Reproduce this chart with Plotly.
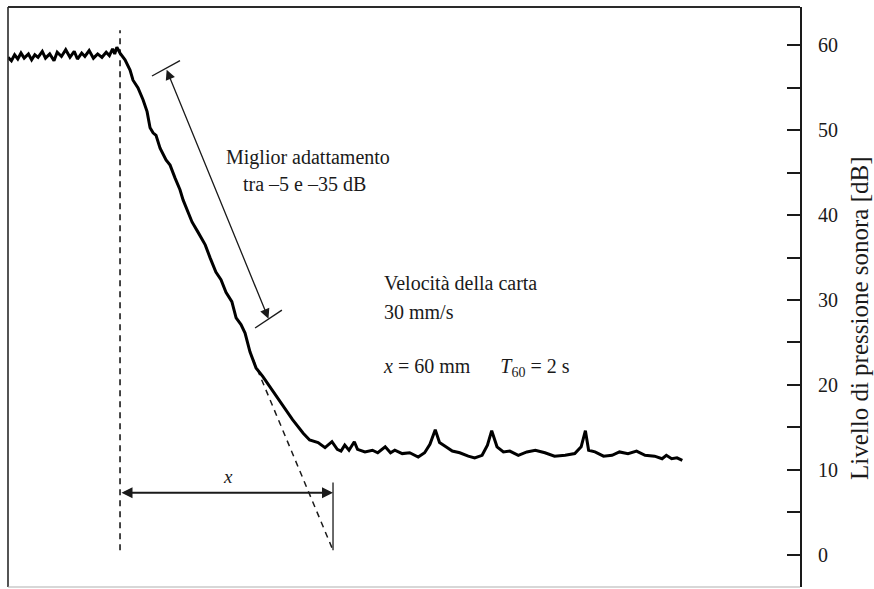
import plotly.graph_objects as go

# ---- data (time in s from start of decay, level in dB) ----
plateau_t = [-1.052, -1.02, -0.99, -0.96, -0.93, -0.90, -0.86, -0.83, -0.80, -0.77,
             -0.73, -0.70, -0.66, -0.62, -0.59, -0.55, -0.51, -0.47, -0.43, -0.40,
             -0.36, -0.33, -0.29, -0.25, -0.21, -0.17, -0.13, -0.10, -0.07, -0.05, -0.03]
plateau_L = [58.6, 58.2, 58.9, 58.4, 59.1, 58.5, 59.0, 58.3, 58.9, 58.6,
             59.3, 58.5, 59.0, 58.2, 59.2, 58.7, 59.5, 58.6, 59.3, 58.4,
             59.1, 58.7, 59.4, 58.5, 59.0, 58.6, 59.2, 58.8, 59.6, 59.0, 59.8]

decay_t = [0.0, 0.047, 0.094, 0.122, 0.169, 0.216, 0.254, 0.282, 0.31, 0.338,
           0.376, 0.432, 0.47, 0.516, 0.563, 0.592, 0.629, 0.676, 0.732, 0.80,
           0.845, 0.90, 0.948, 0.995, 1.05, 1.09, 1.136, 1.174, 1.22, 1.277,
           1.34, 1.427, 1.52, 1.62, 1.72, 1.78, 1.86, 1.925]
decay_L = [59.1, 58.3, 57.1, 55.9, 55.0, 53.6, 52.2, 50.3, 49.7, 49.4,
           47.9, 46.5, 45.9, 44.4, 43.0, 41.8, 40.6, 39.2, 38.0, 36.5,
           35.0, 33.3, 32.4, 30.9, 29.8, 27.9, 27.1, 26.1, 23.9, 22.0,
           21.0, 19.4, 17.6, 15.9, 14.3, 13.5, 13.2, 12.6]

floor_t = [1.99, 2.04, 2.075, 2.11, 2.15, 2.20, 2.23, 2.30, 2.37, 2.42,
           2.49, 2.54, 2.58, 2.65, 2.72, 2.80, 2.86, 2.91, 2.96, 3.00,
           3.06, 3.12, 3.19, 3.27, 3.33, 3.40, 3.45, 3.49, 3.54, 3.60,
           3.66, 3.74, 3.82, 3.90, 3.99, 4.08, 4.18, 4.27, 4.33, 4.37,
           4.40, 4.46, 4.54, 4.62, 4.69, 4.77, 4.85, 4.93, 5.02, 5.09,
           5.13, 5.18, 5.23, 5.28]
floor_L = [13.3, 12.4, 12.2, 12.9, 12.3, 13.3, 12.4, 12.1, 12.3, 12.0,
           12.7, 12.0, 12.3, 11.9, 12.0, 11.5, 12.0, 13.0, 14.7, 13.2,
           12.7, 12.2, 12.0, 11.6, 11.4, 11.7, 12.9, 14.6, 12.7, 12.1,
           12.2, 11.7, 12.1, 12.3, 12.0, 11.6, 11.7, 11.9, 12.7, 14.6,
           12.3, 12.1, 11.6, 11.7, 12.1, 11.9, 12.2, 11.7, 11.6, 11.3,
           11.7, 11.3, 11.4, 11.1]

start_line_t = [0.0, 0.0]
start_line_L = [0.5, 61.8]
fit_ext_t = [1.25, 2.0]
fit_ext_L = [23.0, 0.5]
end_line_t = [2.0, 2.0]
end_line_L = [0.5, 8.5]

x_arrow_t = [0.0, 2.0]
x_arrow_L = 7.3
fit_arrow_t = [0.432, 1.394]
fit_arrow_L = [57.3, 27.8]
fit_bar_top_t = [0.30, 0.563]
fit_bar_top_L = [56.4, 58.2]
fit_bar_bot_t = [1.268, 1.52]
fit_bar_bot_L = [26.7, 28.8]

y_ticks = [0, 10, 20, 30, 40, 50, 60]
y_minor = [5, 15, 25, 35, 45, 55]

curve_t = plateau_t + decay_t + floor_t
curve_L = plateau_L + decay_L + floor_L

SERIF = "Liberation Serif, Times New Roman, serif"
INK = "#1a1a1a"

fig = go.Figure()
fig.add_trace(go.Scatter(x=start_line_t, y=start_line_L, mode="lines",
                         line=dict(color=INK, width=1.6, dash="6px,5px"),
                         hoverinfo="skip", showlegend=False))
fig.add_trace(go.Scatter(x=fit_ext_t, y=fit_ext_L, mode="lines",
                         line=dict(color=INK, width=1.5, dash="6px,5px"),
                         hoverinfo="skip", showlegend=False))
fig.add_trace(go.Scatter(x=end_line_t, y=end_line_L, mode="lines",
                         line=dict(color=INK, width=1.3),
                         hoverinfo="skip", showlegend=False))
fig.add_trace(go.Scatter(x=fit_bar_top_t, y=fit_bar_top_L, mode="lines",
                         line=dict(color=INK, width=1.4),
                         hoverinfo="skip", showlegend=False))
fig.add_trace(go.Scatter(x=fit_bar_bot_t, y=fit_bar_bot_L, mode="lines",
                         line=dict(color=INK, width=1.4),
                         hoverinfo="skip", showlegend=False))
fig.add_trace(go.Scatter(x=curve_t, y=curve_L, mode="lines",
                         line=dict(color="#000000", width=3),
                         showlegend=False))

# double arrows
fig.add_annotation(x=fit_arrow_t[1], y=fit_arrow_L[1], ax=fit_arrow_t[0], ay=fit_arrow_L[0],
                   xref="x", yref="y", axref="x", ayref="y", text="", showarrow=True,
                   arrowside="end+start", arrowhead=2, startarrowhead=2,
                   arrowsize=1.5, startarrowsize=1.5, arrowwidth=1.3,
                   arrowcolor=INK, standoff=0, startstandoff=0)
fig.add_annotation(x=x_arrow_t[1], y=x_arrow_L, ax=x_arrow_t[0], ay=x_arrow_L,
                   xref="x", yref="y", axref="x", ayref="y", text="", showarrow=True,
                   arrowside="end+start", arrowhead=2, startarrowhead=2,
                   arrowsize=1.1, startarrowsize=1.1, arrowwidth=2,
                   arrowcolor=INK, standoff=0, startstandoff=0)

txt = dict(family=SERIF, size=20, color=INK)
fig.add_annotation(x=1.014, y=9.2, text="<i>x</i>", showarrow=False,
                   font=dict(family=SERIF, size=19, color=INK))
fig.add_annotation(x=1.765, y=46.85, text="Miglior adattamento", showarrow=False,
                   font=txt, xanchor="center", yanchor="middle")
fig.add_annotation(x=1.728, y=43.7, text="tra \u20135 e \u201335 dB", showarrow=False,
                   font=txt, xanchor="center", yanchor="middle")
fig.add_annotation(x=2.46, y=32.0, text="Velocit\u00e0 della carta", showarrow=False,
                   font=txt, xanchor="left", yanchor="middle")
fig.add_annotation(x=2.46, y=28.6, text="30 mm/s", showarrow=False,
                   font=txt, xanchor="left", yanchor="middle")
fig.add_annotation(x=2.45, y=22.0,
                   text="<i>x</i> = 60 mm \u2003 <i>T</i><sub>60</sub> = 2 s",
                   showarrow=False, font=txt, xanchor="left", yanchor="middle")

# right axis title
fig.add_annotation(xref="paper", yref="paper", x=1.0758, y=0.4638,
                   text="Livello di pressione sonora [dB]", textangle=-90,
                   showarrow=False, xanchor="center", yanchor="middle",
                   font=dict(family=SERIF, size=25, color=INK))

# frame (top, left dark; bottom light)
fig.add_shape(type="line", xref="paper", yref="paper", x0=0, x1=1, y0=1, y1=1,
              line=dict(color="#2a2a2a", width=2))
fig.add_shape(type="line", xref="paper", yref="paper", x0=0, x1=0, y0=0, y1=1,
              line=dict(color="#2a2a2a", width=1.6))
fig.add_shape(type="line", xref="paper", yref="paper", x0=0, x1=1, y0=0, y1=0,
              line=dict(color="#b0b0b0", width=1.2))

fig.update_layout(
    width=874, height=589,
    margin=dict(l=8, r=74, t=7, b=2),
    paper_bgcolor="white", plot_bgcolor="white",
    xaxis=dict(range=[-1.052, 6.385], visible=False, fixedrange=True),
    yaxis=dict(range=[-3.82, 64.53], side="right", showgrid=False, zeroline=False,
               showline=True, linecolor=INK, linewidth=2,
               tickvals=y_ticks, ticktext=[str(v) for v in y_ticks],
               ticks="inside", ticklen=13, tickwidth=1.6, tickcolor=INK,
               ticklabelstandoff=12,
               minor=dict(tickvals=y_minor, ticks="inside", ticklen=13,
                          tickwidth=1.6, tickcolor=INK),
               tickfont=dict(family=SERIF, size=20, color=INK)),
    showlegend=False,
)

fig.write_html("out.html")
